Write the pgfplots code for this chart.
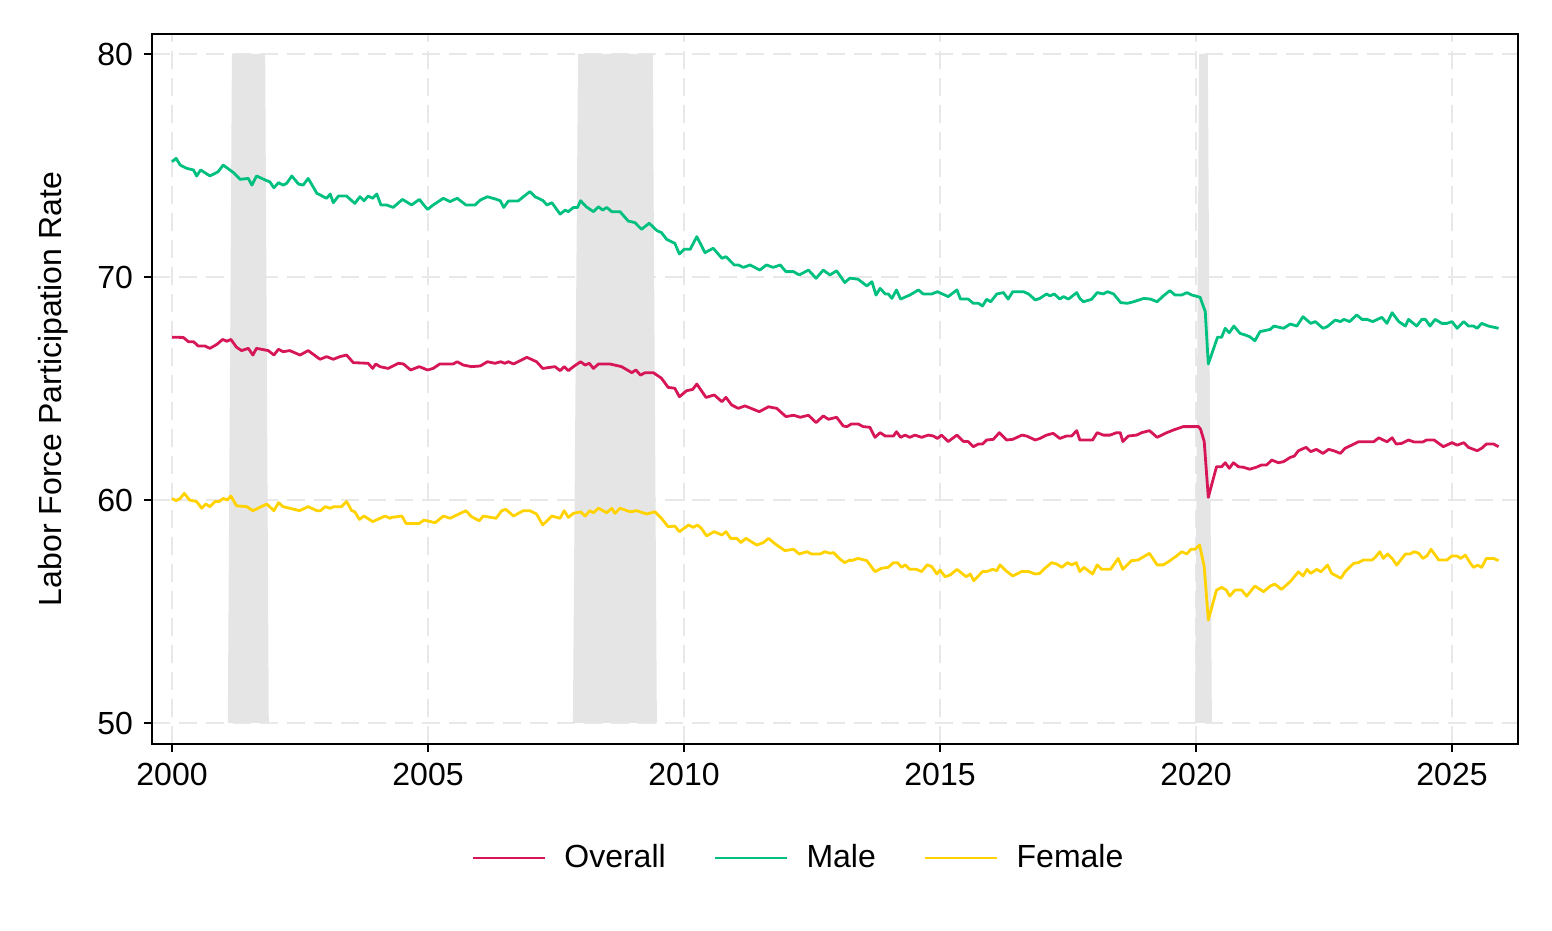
\documentclass[border=0pt]{standalone}
\usepackage{fontspec}
\setmainfont{Liberation Sans}
\usepackage{pgfplots}
\pgfplotsset{compat=1.18}
\definecolor{overall}{RGB}{214,22,88}
\definecolor{male}{RGB}{0,192,128}
\definecolor{female}{RGB}{255,210,0}
\definecolor{recess}{RGB}{229,229,229}
\definecolor{gridgray}{RGB}{232,232,232}
\begin{document}
\fontsize{16}{19}\selectfont
\begin{tikzpicture}
\begin{axis}[
    name=ax,
    scale only axis,
    width=683pt, height=355pt,
    xmin=1999.609, xmax=2026.289,
    ymin=49.058, ymax=80.897,
    xtick={2000,2005,2010,2015,2020,2025},
    ytick={50,60,70,80},
    /pgf/number format/1000 sep={},
    /pgf/number format/assume math mode=true,
    tick align=outside,
    tick pos=left,
    major tick length=4pt,
    tick style={black, line width=0.8pt},
    axis line style={black, line width=1pt},
    grid=major,
    major grid style={gridgray, line width=1.1pt, dash pattern=on 9pt off 4.5pt},
    ylabel={Labor Force Participation Rate},
    every axis y label/.style={at={(axis description cs:-0.0725,0.5)}, rotate=90, anchor=center},
    legend style={draw=none, fill=none, at={(axis description cs:0.474,-0.1606)}, anchor=center,
        legend columns=3,
        /tikz/every odd column/.append style={column sep=7pt},
        /tikz/every even column/.append style={column sep=22pt}},
    legend image code/.code={\draw[#1, line width=1.4pt] (0pt,0pt) -- (36pt,0pt);},
    every axis plot/.append style={line width=1.4pt, line join=round},
]
% recession shading
\addplot[forget plot, fill=recess, draw=none] coordinates {(2001.09,50)(2001.17,80)(2001.82,80)(2001.89,50)} -- cycle;
\addplot[forget plot, fill=recess, draw=none] coordinates {(2007.83,50)(2007.93,80)(2009.39,80)(2009.47,50)} -- cycle;
\addplot[forget plot, fill=recess, draw=none] coordinates {(2019.98,50)(2020.06,80)(2020.23,80)(2020.31,50)} -- cycle;

% Overall
\addplot[overall] coordinates {
(2000.00,67.30)(2000.22,67.29)(2000.32,67.10)(2000.42,67.10)(2000.51,66.91)(2000.64,66.91)(2000.74,66.80)(2000.87,66.97)
(2000.99,67.20)(2001.07,67.12)(2001.15,67.20)(2001.26,66.85)(2001.36,66.70)(2001.49,66.80)(2001.58,66.50)(2001.65,66.80)
(2001.88,66.70)(2001.99,66.50)(2002.08,66.76)(2002.17,66.65)(2002.30,66.70)(2002.50,66.50)(2002.66,66.70)(2002.89,66.31)
(2003.02,66.43)(2003.15,66.31)(2003.28,66.43)(2003.41,66.50)(2003.54,66.16)(2003.83,66.13)(2003.92,65.90)(2003.98,66.10)
(2004.06,65.98)(2004.22,65.90)(2004.42,66.13)(2004.52,66.10)(2004.66,65.83)(2004.83,65.98)(2004.99,65.83)(2005.10,65.90)
(2005.23,66.10)(2005.49,66.10)(2005.57,66.20)(2005.69,66.05)(2005.85,65.98)(2006.02,66.01)(2006.16,66.20)(2006.31,66.13)
(2006.42,66.20)(2006.50,66.13)(2006.57,66.20)(2006.67,66.10)(2006.93,66.40)(2007.12,66.20)(2007.24,65.90)(2007.48,65.98)
(2007.58,65.80)(2007.66,65.98)(2007.74,65.80)(2007.84,65.98)(2007.98,66.20)(2008.07,66.05)(2008.15,66.13)(2008.23,65.90)
(2008.33,66.10)(2008.55,66.10)(2008.78,65.98)(2008.98,65.71)(2009.06,65.83)(2009.15,65.60)(2009.24,65.71)(2009.40,65.71)
(2009.56,65.46)(2009.69,65.05)(2009.82,65.01)(2009.91,64.63)(2010.05,64.90)(2010.17,64.96)(2010.25,65.20)(2010.43,64.60)
(2010.59,64.71)(2010.74,64.41)(2010.82,64.60)(2010.93,64.26)(2011.06,64.11)(2011.19,64.22)(2011.47,63.96)(2011.65,64.18)
(2011.81,64.11)(2011.99,63.74)(2012.14,63.80)(2012.27,63.71)(2012.43,63.80)(2012.58,63.47)(2012.72,63.77)(2012.82,63.62)
(2012.98,63.71)(2013.11,63.32)(2013.18,63.29)(2013.27,63.41)(2013.40,63.41)(2013.50,63.29)(2013.63,63.26)(2013.73,62.81)
(2013.83,63.02)(2013.93,62.87)(2014.09,62.87)(2014.15,63.06)(2014.23,62.81)(2014.32,62.91)(2014.41,62.81)(2014.51,62.91)
(2014.64,62.81)(2014.77,62.91)(2014.87,62.87)(2014.95,62.76)(2015.03,62.91)(2015.16,62.62)(2015.33,62.91)(2015.46,62.62)
(2015.55,62.62)(2015.65,62.39)(2015.75,62.51)(2015.83,62.51)(2015.91,62.69)(2016.04,62.72)(2016.16,63.02)(2016.30,62.69)
(2016.42,62.72)(2016.60,62.91)(2016.69,62.87)(2016.86,62.69)(2016.95,62.76)(2017.08,62.91)(2017.21,62.99)(2017.34,62.76)
(2017.47,62.87)(2017.57,62.87)(2017.67,63.11)(2017.73,62.69)(2017.98,62.69)(2018.07,63.02)(2018.19,62.91)(2018.32,62.91)
(2018.45,63.02)(2018.52,63.02)(2018.57,62.62)(2018.68,62.87)(2018.84,62.91)(2018.94,63.02)(2019.09,63.11)(2019.24,62.81)
(2019.43,63.02)(2019.56,63.14)(2019.75,63.29)(2020.05,63.29)(2020.09,63.17)(2020.16,62.62)(2020.24,60.12)(2020.40,61.49)
(2020.50,61.49)(2020.57,61.67)(2020.65,61.42)(2020.73,61.67)(2020.83,61.49)(2020.92,61.47)(2021.05,61.38)(2021.18,61.47)
(2021.28,61.57)(2021.38,61.57)(2021.48,61.79)(2021.61,61.67)(2021.71,61.72)(2021.84,61.91)(2021.92,61.97)(2022.00,62.21)
(2022.15,62.36)(2022.24,62.17)(2022.35,62.27)(2022.48,62.09)(2022.59,62.27)(2022.69,62.21)(2022.82,62.09)(2022.91,62.32)
(2023.04,62.46)(2023.17,62.61)(2023.47,62.61)(2023.57,62.79)(2023.73,62.61)(2023.83,62.79)(2023.91,62.51)(2024.02,62.54)
(2024.15,62.69)(2024.26,62.60)(2024.43,62.60)(2024.50,62.69)(2024.65,62.69)(2024.83,62.39)(2025.00,62.57)(2025.10,62.46)
(2025.23,62.57)(2025.32,62.36)(2025.49,62.21)(2025.58,62.32)(2025.67,62.51)(2025.81,62.51)(2025.91,62.39)
};
\addlegendentry{Overall}

% Male
\addplot[male] coordinates {
(2000.00,75.17)(2000.08,75.32)(2000.16,75.02)(2000.29,74.87)(2000.42,74.80)(2000.48,74.53)(2000.56,74.80)(2000.74,74.53)
(2000.90,74.72)(2001.00,75.02)(2001.20,74.68)(2001.33,74.38)(2001.49,74.42)(2001.56,74.12)(2001.65,74.53)(2001.85,74.32)
(2001.91,74.27)(2001.99,74.00)(2002.08,74.23)(2002.17,74.12)(2002.24,74.20)(2002.34,74.53)(2002.47,74.17)(2002.56,74.12)
(2002.66,74.42)(2002.83,73.75)(2003.02,73.53)(2003.09,73.72)(2003.15,73.33)(2003.25,73.63)(2003.41,73.63)(2003.57,73.30)
(2003.67,73.60)(2003.75,73.42)(2003.83,73.63)(2003.92,73.53)(2004.00,73.72)(2004.08,73.23)(2004.19,73.23)(2004.32,73.12)
(2004.50,73.48)(2004.68,73.23)(2004.83,73.48)(2004.99,73.03)(2005.10,73.23)(2005.30,73.53)(2005.43,73.38)(2005.57,73.53)
(2005.74,73.23)(2005.92,73.23)(2006.02,73.45)(2006.16,73.60)(2006.34,73.48)(2006.41,73.42)(2006.48,73.12)(2006.57,73.41)
(2006.76,73.41)(2006.99,73.83)(2007.09,73.60)(2007.25,73.42)(2007.32,73.23)(2007.42,73.33)(2007.58,72.82)(2007.68,73.00)
(2007.74,72.93)(2007.84,73.12)(2007.92,73.12)(2007.98,73.42)(2008.09,73.15)(2008.23,72.93)(2008.33,73.15)(2008.41,73.00)
(2008.49,73.12)(2008.59,72.93)(2008.75,72.93)(2008.91,72.51)(2009.04,72.44)(2009.17,72.14)(2009.32,72.41)(2009.47,72.08)
(2009.56,71.99)(2009.66,71.69)(2009.82,71.51)(2009.91,71.03)(2010.00,71.24)(2010.12,71.24)(2010.25,71.81)(2010.41,71.09)
(2010.57,71.29)(2010.74,70.84)(2010.82,70.91)(2010.98,70.54)(2011.06,70.54)(2011.16,70.43)(2011.29,70.54)(2011.48,70.31)
(2011.61,70.54)(2011.74,70.43)(2011.88,70.54)(2011.99,70.24)(2012.14,70.24)(2012.25,70.09)(2012.43,70.31)(2012.58,69.94)
(2012.72,70.31)(2012.85,70.09)(2012.98,70.28)(2013.14,69.75)(2013.24,69.95)(2013.40,69.90)(2013.57,69.60)(2013.67,69.79)
(2013.75,69.19)(2013.83,69.49)(2013.93,69.24)(2013.99,69.24)(2014.06,69.04)(2014.15,69.42)(2014.23,69.01)(2014.41,69.19)
(2014.58,69.42)(2014.67,69.24)(2014.84,69.24)(2014.95,69.34)(2015.16,69.12)(2015.33,69.42)(2015.40,69.01)(2015.55,69.01)
(2015.65,68.82)(2015.75,68.82)(2015.83,68.70)(2015.91,69.00)(2015.99,68.89)(2016.11,69.24)(2016.24,69.30)(2016.33,69.01)
(2016.42,69.34)(2016.63,69.34)(2016.73,69.24)(2016.86,68.97)(2016.95,69.04)(2017.08,69.24)(2017.15,69.15)(2017.23,69.24)
(2017.34,69.01)(2017.41,69.12)(2017.51,69.01)(2017.67,69.30)(2017.73,69.04)(2017.80,68.89)(2017.96,69.00)(2018.07,69.30)
(2018.19,69.24)(2018.27,69.34)(2018.39,69.24)(2018.53,68.85)(2018.66,68.82)(2018.78,68.89)(2018.98,69.04)(2019.11,69.01)
(2019.24,68.89)(2019.36,69.15)(2019.49,69.39)(2019.59,69.19)(2019.72,69.19)(2019.82,69.30)(2019.92,69.19)(2020.08,69.09)
(2020.18,68.45)(2020.24,66.10)(2020.42,67.30)(2020.50,67.30)(2020.57,67.70)(2020.65,67.50)(2020.74,67.80)(2020.86,67.47)
(2020.96,67.40)(2021.05,67.32)(2021.15,67.14)(2021.25,67.55)(2021.45,67.65)(2021.52,67.80)(2021.71,67.70)(2021.84,67.89)
(2021.97,67.80)(2022.09,68.22)(2022.24,67.92)(2022.33,68.00)(2022.48,67.70)(2022.56,67.77)(2022.72,68.07)(2022.82,68.00)
(2022.89,68.10)(2023.00,68.00)(2023.14,68.30)(2023.24,68.10)(2023.34,68.10)(2023.45,68.00)(2023.63,68.19)(2023.73,67.92)
(2023.83,68.40)(2023.96,68.00)(2024.09,67.80)(2024.15,68.10)(2024.31,67.80)(2024.41,68.10)(2024.48,68.10)(2024.57,67.80)
(2024.67,68.10)(2024.80,67.92)(2024.90,67.92)(2025.00,68.00)(2025.10,67.70)(2025.23,68.00)(2025.32,67.80)(2025.42,67.80)
(2025.49,67.70)(2025.58,67.92)(2025.71,67.80)(2025.91,67.70)
};
\addlegendentry{Male}

% Female
\addplot[female] coordinates {
(2000.00,60.07)(2000.08,59.97)(2000.16,60.07)(2000.24,60.30)(2000.34,60.00)(2000.48,59.93)(2000.58,59.63)(2000.66,59.82)
(2000.74,59.70)(2000.84,59.93)(2000.92,59.93)(2001.00,60.07)(2001.08,60.00)(2001.15,60.18)(2001.26,59.74)(2001.46,59.70)
(2001.58,59.52)(2001.85,59.82)(2001.99,59.52)(2002.08,59.88)(2002.17,59.70)(2002.30,59.63)(2002.49,59.52)(2002.66,59.70)
(2002.83,59.52)(2002.90,59.52)(2002.99,59.70)(2003.09,59.63)(2003.16,59.70)(2003.31,59.70)(2003.41,59.93)(2003.51,59.52)
(2003.57,59.47)(2003.66,59.13)(2003.75,59.28)(2003.92,59.03)(2004.16,59.28)(2004.26,59.18)(2004.29,59.22)(2004.49,59.28)
(2004.57,58.95)(2004.83,58.95)(2004.92,59.10)(2005.14,58.98)(2005.30,59.28)(2005.43,59.18)(2005.74,59.52)(2005.85,59.25)
(2006.00,59.07)(2006.08,59.28)(2006.33,59.18)(2006.44,59.52)(2006.52,59.58)(2006.67,59.28)(2006.86,59.52)(2006.99,59.52)
(2007.12,59.37)(2007.24,58.88)(2007.42,59.28)(2007.58,59.18)(2007.66,59.52)(2007.74,59.22)(2007.84,59.40)(2007.98,59.47)
(2008.07,59.28)(2008.16,59.52)(2008.23,59.43)(2008.33,59.63)(2008.49,59.43)(2008.59,59.63)(2008.65,59.40)(2008.75,59.63)
(2008.95,59.47)(2009.08,59.52)(2009.27,59.37)(2009.43,59.47)(2009.56,59.18)(2009.69,58.80)(2009.82,58.83)(2009.91,58.58)
(2010.09,58.88)(2010.18,58.77)(2010.26,58.88)(2010.34,58.73)(2010.44,58.39)(2010.59,58.58)(2010.74,58.43)(2010.82,58.58)
(2010.91,58.28)(2011.03,58.28)(2011.11,58.09)(2011.21,58.28)(2011.42,57.98)(2011.55,58.09)(2011.65,58.28)(2011.78,58.03)
(2011.97,57.73)(2012.14,57.79)(2012.25,57.58)(2012.40,57.68)(2012.49,57.58)(2012.66,57.58)(2012.75,57.68)(2012.85,57.61)
(2012.92,57.64)(2013.05,57.34)(2013.14,57.19)(2013.24,57.31)(2013.27,57.28)(2013.40,57.38)(2013.57,57.28)(2013.73,56.79)
(2013.86,56.94)(2013.99,56.98)(2014.09,57.19)(2014.17,57.19)(2014.25,56.98)(2014.32,57.09)(2014.41,56.89)(2014.54,56.89)
(2014.64,56.79)(2014.75,57.09)(2014.84,57.01)(2014.94,56.68)(2015.00,56.86)(2015.10,56.56)(2015.20,56.64)(2015.33,56.89)
(2015.51,56.56)(2015.59,56.68)(2015.66,56.38)(2015.83,56.79)(2015.91,56.79)(2016.03,56.89)(2016.11,56.83)(2016.17,57.09)
(2016.27,56.86)(2016.42,56.59)(2016.59,56.79)(2016.73,56.79)(2016.86,56.68)(2016.95,56.71)(2017.05,56.94)(2017.18,57.19)
(2017.28,57.13)(2017.38,56.98)(2017.49,57.19)(2017.57,57.09)(2017.66,57.19)(2017.73,56.79)(2017.81,56.98)(2017.98,56.68)
(2018.07,57.09)(2018.16,56.89)(2018.33,56.89)(2018.48,57.38)(2018.57,56.89)(2018.74,57.28)(2018.87,57.31)(2019.09,57.61)
(2019.24,57.09)(2019.36,57.09)(2019.46,57.23)(2019.62,57.49)(2019.72,57.68)(2019.82,57.58)(2019.90,57.79)(2019.98,57.79)
(2020.07,57.98)(2020.16,57.01)(2020.24,54.62)(2020.40,55.96)(2020.50,56.08)(2020.59,55.96)(2020.66,55.69)(2020.76,55.96)
(2020.89,55.96)(2020.99,55.69)(2021.15,56.14)(2021.32,55.89)(2021.45,56.14)(2021.54,56.23)(2021.67,55.99)(2021.84,56.34)
(2022.00,56.78)(2022.09,56.59)(2022.17,56.89)(2022.24,56.71)(2022.36,56.89)(2022.44,56.78)(2022.57,57.08)(2022.65,56.71)
(2022.83,56.49)(2022.91,56.78)(2023.08,57.16)(2023.17,57.19)(2023.27,57.31)(2023.44,57.31)(2023.50,57.43)(2023.59,57.68)
(2023.66,57.38)(2023.74,57.58)(2023.83,57.38)(2023.92,57.08)(2024.09,57.58)(2024.18,57.58)(2024.26,57.68)(2024.35,57.61)
(2024.43,57.38)(2024.51,57.49)(2024.59,57.79)(2024.74,57.31)(2024.90,57.31)(2025.00,57.49)(2025.10,57.49)(2025.17,57.38)
(2025.26,57.53)(2025.36,57.16)(2025.42,56.98)(2025.50,57.08)(2025.58,56.98)(2025.67,57.38)(2025.81,57.38)(2025.91,57.28)
};
\addlegendentry{Female}
\end{axis}
\path (ax.south west) ++(-76pt,-93.5pt) rectangle ++(776pt,465.5pt);
\end{tikzpicture}
\end{document}
